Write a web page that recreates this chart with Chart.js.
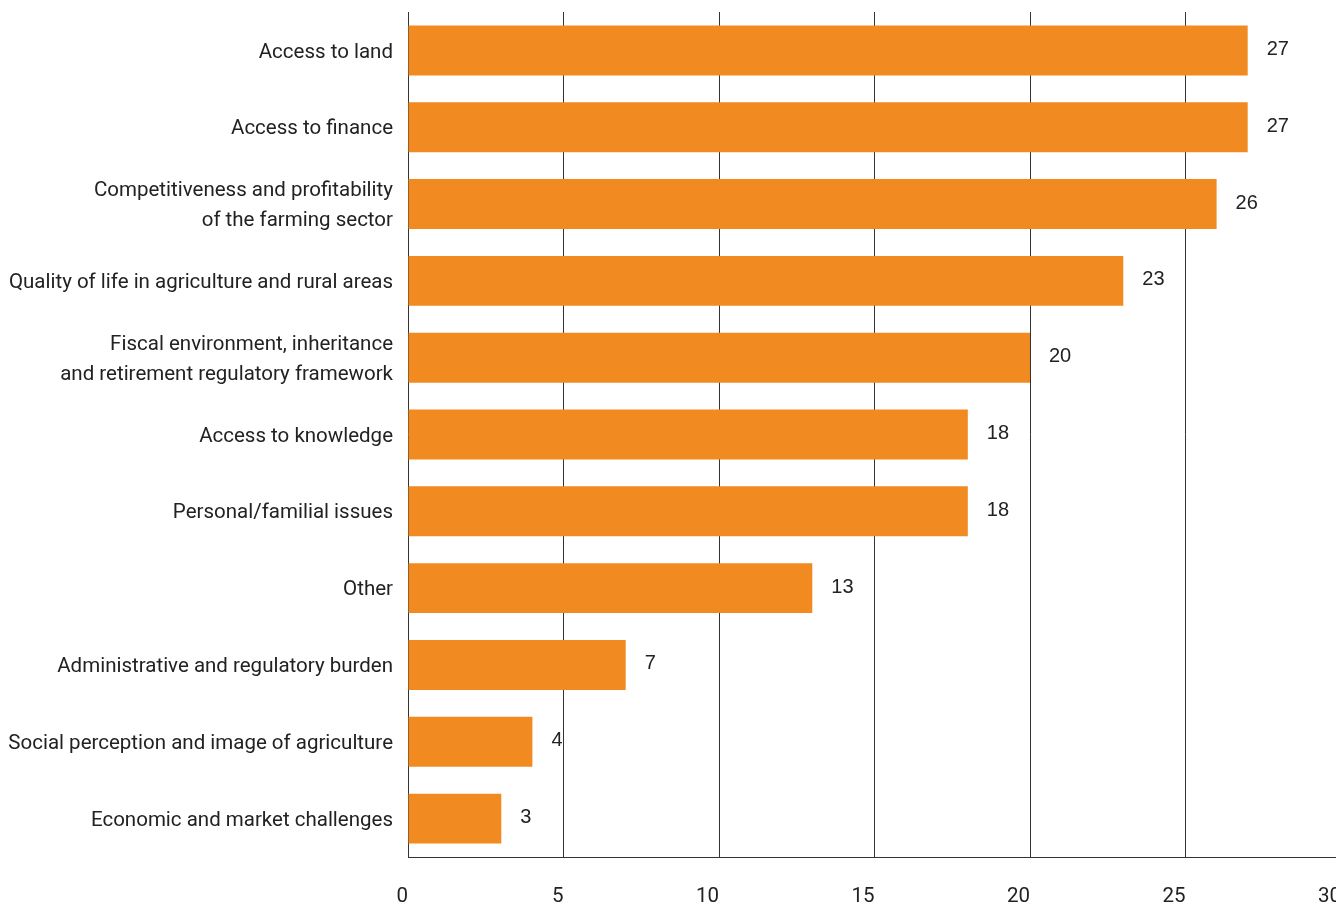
<!DOCTYPE html>
<html>
<head>
<meta charset="utf-8">
<script src="https://cdn.jsdelivr.net/npm/chart.js@4/dist/chart.umd.min.js"></script>
<style>
  html, body { margin: 0; padding: 0; background: #fff; overflow: hidden; }
  #wrap { width: 1345px; height: 906px; position: relative; }
</style>
</head>
<body>
<div id="wrap"><canvas id="chart"></canvas></div>
<script>
  // chart data
  const categories = [
    'Access to land',
    'Access to finance',
    ['Competitiveness and profitability', 'of the farming sector'],
    'Quality of life in agriculture and rural areas',
    ['Fiscal environment, inheritance', 'and retirement regulatory framework'],
    'Access to knowledge',
    'Personal/familial issues',
    'Other',
    'Administrative and regulatory burden',
    'Social perception and image of agriculture',
    'Economic and market challenges'
  ]
  const values = [27, 27, 26, 23, 20, 18, 18, 13, 7, 4, 3]
  const xTicks = [0, 5, 10, 15, 20, 25, 30]

  const barColor = '#F28A22'
  const textColor = '#222222'

  // value labels at the end of each bar
  const valueLabels = {
    id: 'valueLabels',
    afterDatasetsDraw(chart) {
      const { ctx } = chart
      const meta = chart.getDatasetMeta(0)
      ctx.save()
      ctx.font = '20px "Liberation Sans", Arial, sans-serif'
      ctx.fillStyle = textColor
      ctx.textAlign = 'left'
      ctx.textBaseline = 'middle'
      meta.data.forEach((bar, i) => {
        ctx.fillText(String(values[i]), bar.x + 19, bar.y - 1)
      })
      ctx.restore()
    }
  }

  const ctx = document.getElementById('chart')
  new Chart(ctx, {
    type: 'bar',
    data: {
      labels: categories,
      datasets: [{
        data: values,
        backgroundColor: barColor,
        borderWidth: 0,
        categoryPercentage: 1,
        barPercentage: 0.65
      }]
    },
    options: {
      indexAxis: 'y',
      responsive: true,
      maintainAspectRatio: false,
      animation: false,
      layout: { padding: { top: 12, right: 4, bottom: 0, left: 0 } },
      plugins: {
        legend: { display: false },
        tooltip: { enabled: false }
      },
      scales: {
        x: {
          min: 0,
          max: 30,
          afterBuildTicks(scale) {
            scale.ticks = xTicks.map(v => ({ value: v }))
          },
          afterFit(scale) {
            scale.height = 49
            scale.paddingLeft = 0
            scale.paddingRight = 0
          },
          grid: {
            color: '#333333',
            lineWidth: 1,
            drawTicks: false
          },
          border: { display: true, color: '#333333', width: 1 },
          ticks: {
            align: 'end',
            padding: 28,
            color: textColor,
            font: { family: 'Roboto', size: 20.5 },
            maxRotation: 0
          }
        },
        y: {
          grid: { display: false, drawTicks: false },
          border: { display: false },
          ticks: {
            padding: 15,
            labelOffset: 2,
            color: textColor,
            font: { family: 'Roboto', size: 20.5, lineHeight: 1.45 },
            autoSkip: false
          },
          afterFit(scale) {
            scale.width = 408
            scale.paddingTop = 0
            scale.paddingBottom = 0
          }
        }
      }
    },
    plugins: [valueLabels]
  })
</script>
</body>
</html>
